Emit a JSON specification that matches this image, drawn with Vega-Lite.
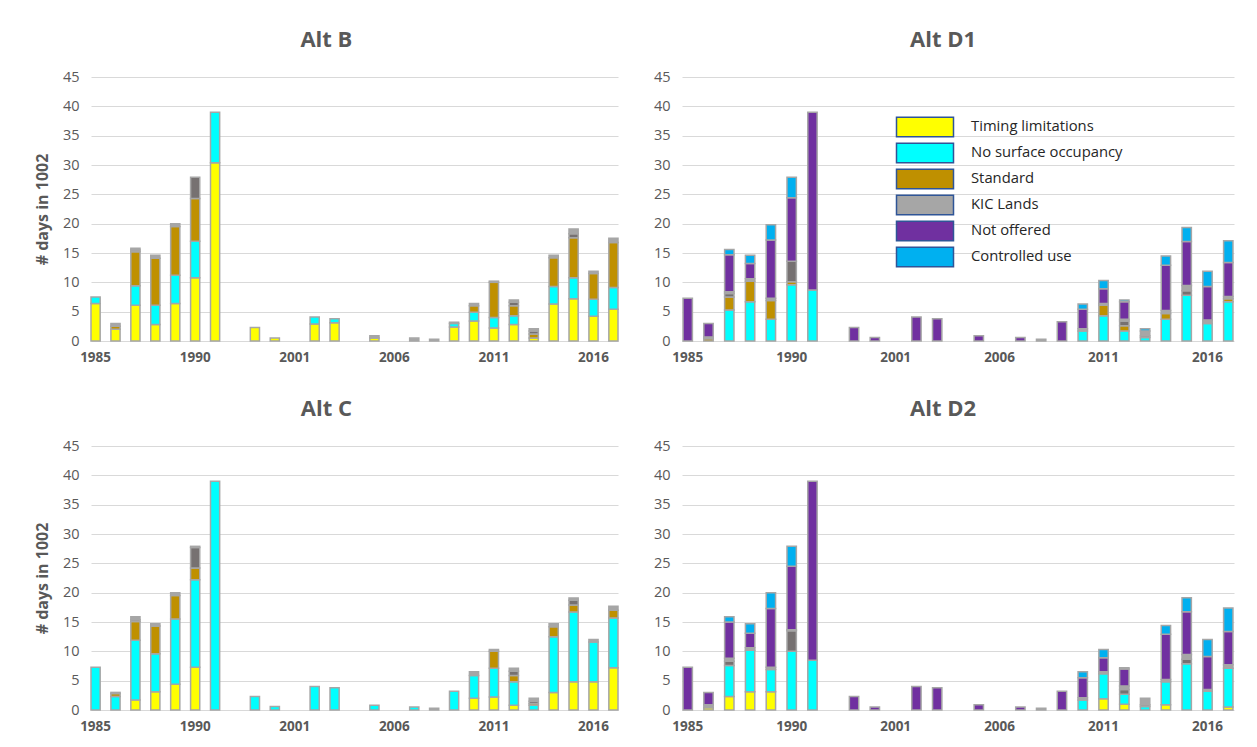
{
  "$schema": "https://vega.github.io/schema/vega-lite/v6.json",
  "background": "white",
  "padding": {"left": 34, "top": 29, "right": 10, "bottom": 5},
  "config": {
    "view": {"stroke": null},
    "font": "Open Sans",
    "axis": {"domain": false, "ticks": false, "labelColor": "#595959", "labelFont": "Open Sans", "gridColor": "#D9D9D9", "gridWidth": 1.2},
    "axisX": {"grid": false, "labelFontWeight": "bold", "labelFontSize": 13.5, "labelPadding": 9, "labelAngle": 0},
    "axisY": {"grid": true, "labelFontSize": 14.5, "labelPadding": 12, "minExtent": 30, "maxExtent": 30},
    "title": {"font": "Open Sans", "fontSize": 22, "fontWeight": "bold", "color": "#595959", "anchor": "middle", "frame": "bounds", "offset": 17}
  },
  "data": {"values": [
    {"panel": "Alt B", "year": "1985", "Timing limitations": 6.4, "No surface occupancy": 1.1},
    {"panel": "Alt B", "year": "1986", "Timing limitations": 2.0, "Standard": 0.5, "KIC Lands": 0.5},
    {"panel": "Alt B", "year": "1987", "Timing limitations": 6.1, "No surface occupancy": 3.3, "Standard": 5.8, "Other": 0.3, "KIC Lands": 0.3},
    {"panel": "Alt B", "year": "1988", "Timing limitations": 2.8, "No surface occupancy": 3.3, "Standard": 8.0, "KIC Lands": 0.5},
    {"panel": "Alt B", "year": "1989", "Timing limitations": 6.4, "No surface occupancy": 4.8, "Standard": 8.3, "KIC Lands": 0.5},
    {"panel": "Alt B", "year": "1990", "Timing limitations": 10.8, "No surface occupancy": 6.2, "Standard": 7.3, "Other": 3.6},
    {"panel": "Alt B", "year": "1991", "Timing limitations": 30.4, "No surface occupancy": 8.6},
    {"panel": "Alt B", "year": "1999", "Timing limitations": 2.3},
    {"panel": "Alt B", "year": "2000", "Timing limitations": 0.5},
    {"panel": "Alt B", "year": "2002", "Timing limitations": 2.9, "No surface occupancy": 1.2},
    {"panel": "Alt B", "year": "2003", "Timing limitations": 3.1, "No surface occupancy": 0.7},
    {"panel": "Alt B", "year": "2005", "Timing limitations": 0.5, "KIC Lands": 0.4},
    {"panel": "Alt B", "year": "2007", "KIC Lands": 0.5},
    {"panel": "Alt B", "year": "2008", "KIC Lands": 0.3},
    {"panel": "Alt B", "year": "2009", "Timing limitations": 2.4, "No surface occupancy": 0.6, "KIC Lands": 0.2},
    {"panel": "Alt B", "year": "2010", "Timing limitations": 3.4, "No surface occupancy": 1.5, "Standard": 1.1, "KIC Lands": 0.4},
    {"panel": "Alt B", "year": "2011", "Timing limitations": 2.2, "No surface occupancy": 1.8, "Standard": 6.0, "KIC Lands": 0.2},
    {"panel": "Alt B", "year": "2012", "Timing limitations": 2.8, "No surface occupancy": 1.5, "Standard": 1.7, "Other": 0.6, "KIC Lands": 0.4},
    {"panel": "Alt B", "year": "2013", "Timing limitations": 0.5, "Standard": 0.7, "Other": 0.5, "KIC Lands": 0.4},
    {"panel": "Alt B", "year": "2014", "Timing limitations": 6.3, "No surface occupancy": 3.0, "Standard": 4.9, "KIC Lands": 0.4},
    {"panel": "Alt B", "year": "2015", "Timing limitations": 7.2, "No surface occupancy": 3.6, "Standard": 6.8, "Other": 0.7, "KIC Lands": 0.8},
    {"panel": "Alt B", "year": "2016", "Timing limitations": 4.2, "No surface occupancy": 2.9, "Standard": 4.4, "KIC Lands": 0.4},
    {"panel": "Alt B", "year": "2017", "Timing limitations": 5.4, "No surface occupancy": 3.7, "Standard": 7.7, "KIC Lands": 0.7},

    {"panel": "Alt D1", "year": "1985", "Not offered": 7.3},
    {"panel": "Alt D1", "year": "1986", "Standard": 0.4, "KIC Lands": 0.3, "Not offered": 2.3},
    {"panel": "Alt D1", "year": "1987", "No surface occupancy": 5.3, "Standard": 2.2, "Other": 0.6, "KIC Lands": 0.3, "Not offered": 6.3, "Controlled use": 0.9},
    {"panel": "Alt D1", "year": "1988", "No surface occupancy": 6.7, "Standard": 3.5, "KIC Lands": 0.4, "Not offered": 2.6, "Controlled use": 1.4},
    {"panel": "Alt D1", "year": "1989", "No surface occupancy": 3.7, "Standard": 3.2, "KIC Lands": 0.4, "Not offered": 9.9, "Controlled use": 2.6},
    {"panel": "Alt D1", "year": "1990", "No surface occupancy": 9.6, "Standard": 0.5, "Other": 3.5, "Not offered": 10.8, "Controlled use": 3.5},
    {"panel": "Alt D1", "year": "1991", "No surface occupancy": 8.7, "Not offered": 30.3},
    {"panel": "Alt D1", "year": "1999", "Not offered": 2.3},
    {"panel": "Alt D1", "year": "2000", "Not offered": 0.6},
    {"panel": "Alt D1", "year": "2002", "Not offered": 4.1},
    {"panel": "Alt D1", "year": "2003", "Not offered": 3.8},
    {"panel": "Alt D1", "year": "2005", "Not offered": 0.9},
    {"panel": "Alt D1", "year": "2007", "Not offered": 0.6},
    {"panel": "Alt D1", "year": "2008", "KIC Lands": 0.3},
    {"panel": "Alt D1", "year": "2009", "Not offered": 3.3},
    {"panel": "Alt D1", "year": "2010", "No surface occupancy": 1.7, "KIC Lands": 0.4, "Not offered": 3.3, "Controlled use": 0.9},
    {"panel": "Alt D1", "year": "2011", "No surface occupancy": 4.3, "Standard": 1.8, "KIC Lands": 0.3, "Not offered": 2.5, "Controlled use": 1.4},
    {"panel": "Alt D1", "year": "2012", "No surface occupancy": 1.7, "Standard": 0.9, "Other": 0.8, "KIC Lands": 0.3, "Not offered": 3.0, "Controlled use": 0.3},
    {"panel": "Alt D1", "year": "2013", "No surface occupancy": 0.6, "Other": 0.3, "KIC Lands": 0.8, "Controlled use": 0.4},
    {"panel": "Alt D1", "year": "2014", "No surface occupancy": 3.7, "Standard": 1.0, "KIC Lands": 0.5, "Not offered": 7.7, "Controlled use": 1.6},
    {"panel": "Alt D1", "year": "2015", "No surface occupancy": 7.8, "Other": 0.75, "KIC Lands": 0.9, "Not offered": 7.5, "Controlled use": 2.4},
    {"panel": "Alt D1", "year": "2016", "No surface occupancy": 3.0, "KIC Lands": 0.6, "Not offered": 5.7, "Controlled use": 2.6},
    {"panel": "Alt D1", "year": "2017", "No surface occupancy": 6.7, "Standard": 0.5, "KIC Lands": 0.4, "Not offered": 5.8, "Controlled use": 3.7},

    {"panel": "Alt C", "year": "1985", "No surface occupancy": 7.3},
    {"panel": "Alt C", "year": "1986", "No surface occupancy": 2.3, "Standard": 0.5, "KIC Lands": 0.2},
    {"panel": "Alt C", "year": "1987", "Timing limitations": 1.7, "No surface occupancy": 10.2, "Standard": 3.2, "Other": 0.3, "KIC Lands": 0.5},
    {"panel": "Alt C", "year": "1988", "Timing limitations": 3.1, "No surface occupancy": 6.5, "Standard": 4.7, "KIC Lands": 0.4},
    {"panel": "Alt C", "year": "1989", "Timing limitations": 4.4, "No surface occupancy": 11.1, "Standard": 4.0, "KIC Lands": 0.5},
    {"panel": "Alt C", "year": "1990", "Timing limitations": 7.3, "No surface occupancy": 14.9, "Standard": 2.0, "Other": 3.5, "KIC Lands": 0.2},
    {"panel": "Alt C", "year": "1991", "No surface occupancy": 39.0},
    {"panel": "Alt C", "year": "1999", "No surface occupancy": 2.3},
    {"panel": "Alt C", "year": "2000", "No surface occupancy": 0.6},
    {"panel": "Alt C", "year": "2002", "No surface occupancy": 4.0},
    {"panel": "Alt C", "year": "2003", "No surface occupancy": 3.8},
    {"panel": "Alt C", "year": "2005", "No surface occupancy": 0.8},
    {"panel": "Alt C", "year": "2007", "No surface occupancy": 0.5},
    {"panel": "Alt C", "year": "2008", "KIC Lands": 0.3},
    {"panel": "Alt C", "year": "2009", "No surface occupancy": 3.2},
    {"panel": "Alt C", "year": "2010", "Timing limitations": 2.0, "No surface occupancy": 3.9, "KIC Lands": 0.6},
    {"panel": "Alt C", "year": "2011", "Timing limitations": 2.2, "No surface occupancy": 4.9, "Standard": 2.9, "KIC Lands": 0.3},
    {"panel": "Alt C", "year": "2012", "Timing limitations": 0.8, "No surface occupancy": 4.0, "Standard": 1.1, "Other": 0.7, "KIC Lands": 0.5},
    {"panel": "Alt C", "year": "2013", "No surface occupancy": 0.8, "Standard": 0.3, "Other": 0.4, "KIC Lands": 0.5},
    {"panel": "Alt C", "year": "2014", "Timing limitations": 3.0, "No surface occupancy": 9.5, "Standard": 1.7, "KIC Lands": 0.5},
    {"panel": "Alt C", "year": "2015", "Timing limitations": 4.8, "No surface occupancy": 11.9, "Standard": 1.2, "Other": 0.8, "KIC Lands": 0.4},
    {"panel": "Alt C", "year": "2016", "Timing limitations": 4.8, "No surface occupancy": 6.8, "KIC Lands": 0.4},
    {"panel": "Alt C", "year": "2017", "Timing limitations": 7.2, "No surface occupancy": 8.5, "Standard": 1.3, "KIC Lands": 0.7},

    {"panel": "Alt D2", "year": "1985", "Not offered": 7.3},
    {"panel": "Alt D2", "year": "1986", "Timing limitations": 0.4, "KIC Lands": 0.5, "Not offered": 2.1},
    {"panel": "Alt D2", "year": "1987", "Timing limitations": 2.3, "No surface occupancy": 5.3, "Other": 0.7, "KIC Lands": 0.5, "Not offered": 6.2, "Controlled use": 0.9},
    {"panel": "Alt D2", "year": "1988", "Timing limitations": 3.1, "No surface occupancy": 7.1, "KIC Lands": 0.4, "Not offered": 2.5, "Controlled use": 1.6},
    {"panel": "Alt D2", "year": "1989", "Timing limitations": 3.1, "No surface occupancy": 3.8, "KIC Lands": 0.4, "Not offered": 10.0, "Controlled use": 2.7},
    {"panel": "Alt D2", "year": "1990", "No surface occupancy": 10.0, "Other": 3.5, "KIC Lands": 0.2, "Not offered": 10.8, "Controlled use": 3.4},
    {"panel": "Alt D2", "year": "1991", "No surface occupancy": 8.5, "Not offered": 30.5},
    {"panel": "Alt D2", "year": "1999", "Not offered": 2.3},
    {"panel": "Alt D2", "year": "2000", "Not offered": 0.5},
    {"panel": "Alt D2", "year": "2002", "Not offered": 4.0},
    {"panel": "Alt D2", "year": "2003", "Not offered": 3.8},
    {"panel": "Alt D2", "year": "2005", "Not offered": 0.9},
    {"panel": "Alt D2", "year": "2007", "Not offered": 0.5},
    {"panel": "Alt D2", "year": "2008", "KIC Lands": 0.3},
    {"panel": "Alt D2", "year": "2009", "Not offered": 3.2},
    {"panel": "Alt D2", "year": "2010", "No surface occupancy": 1.7, "KIC Lands": 0.4, "Not offered": 3.4, "Controlled use": 1.0},
    {"panel": "Alt D2", "year": "2011", "Timing limitations": 1.9, "No surface occupancy": 4.3, "KIC Lands": 0.3, "Not offered": 2.4, "Controlled use": 1.4},
    {"panel": "Alt D2", "year": "2012", "Timing limitations": 1.0, "No surface occupancy": 1.7, "Other": 0.8, "KIC Lands": 0.6, "Not offered": 2.9, "Controlled use": 0.2},
    {"panel": "Alt D2", "year": "2013", "No surface occupancy": 0.6, "Other": 0.3, "KIC Lands": 1.1},
    {"panel": "Alt D2", "year": "2014", "Timing limitations": 0.9, "No surface occupancy": 3.9, "KIC Lands": 0.4, "Not offered": 7.7, "Controlled use": 1.5},
    {"panel": "Alt D2", "year": "2015", "No surface occupancy": 7.9, "Other": 0.75, "KIC Lands": 0.8, "Not offered": 7.3, "Controlled use": 2.4},
    {"panel": "Alt D2", "year": "2016", "No surface occupancy": 3.2, "KIC Lands": 0.3, "Not offered": 5.6, "Controlled use": 2.9},
    {"panel": "Alt D2", "year": "2017", "Timing limitations": 0.5, "No surface occupancy": 6.6, "KIC Lands": 0.6, "Not offered": 5.7, "Controlled use": 4.0}
  ]},
  "resolve": {"scale": {"color": "independent", "x": "independent", "y": "independent"}, "legend": {"color": "independent"}},
  "spacing": 34,
  "vconcat": [
    {
      "spacing": 33,
      "resolve": {"scale": {"color": "independent", "x": "independent", "y": "independent"}, "legend": {"color": "independent"}},
      "hconcat": [
        {
          "width": 527, "height": 264,
          "title": {"text": "Alt B"},
          "transform": [
            {"filter": "datum.panel === 'Alt B'"},
            {"fold": ["Timing limitations", "No surface occupancy", "Standard", "Other", "KIC Lands", "Not offered", "Controlled use"], "as": ["category", "days"]},
            {"filter": "datum.days > 0"},
            {"window": [{"op": "row_number", "as": "stackIdx"}], "groupby": ["year"]}
          ],
          "mark": {"type": "bar", "stroke": "#A6A6A6", "strokeWidth": 1.5},
          "encoding": {
            "x": {"field": "year", "type": "ordinal", "scale": {"domain": ["1985","1986","1987","1988","1989","1990","1991","1998","1999","2000","2001","2002","2003","2004","2005","2006","2007","2008","2009","2010","2011","2012","2013","2014","2015","2016","2017"], "paddingInner": 0.54, "paddingOuter": 0.0}, "axis": {"title": null, "values": ["1985","1990","2001","2006","2011","2016"]}},
            "y": {"field": "days", "type": "quantitative", "stack": "zero", "scale": {"domain": [0, 45], "nice": false}, "axis": {"values": [0,5,10,15,20,25,30,35,40,45], "title": "# days in 1002", "titleFontSize": 16, "titleFontWeight": "bold", "titleColor": "#595959", "titleFont": "Open Sans", "titlePadding": 11}},
            "order": {"field": "stackIdx", "type": "quantitative", "sort": "ascending"},
            "color": {"field": "category", "type": "nominal", "scale": {"domain": ["Timing limitations", "No surface occupancy", "Standard", "Other", "KIC Lands", "Not offered", "Controlled use"], "range": ["#FFFF00", "#00FFFF", "#BF9000", "#767171", "#A6A6A6", "#7030A0", "#00B0F0"]}, "legend": null}
          }
        },
        {
          "width": 552, "height": 264,
          "title": {"text": "Alt D1"},
          "transform": [
            {"filter": "datum.panel === 'Alt D1'"},
            {"fold": ["Timing limitations", "No surface occupancy", "Standard", "Other", "KIC Lands", "Not offered", "Controlled use"], "as": ["category", "days"]},
            {"filter": "datum.days > 0"},
            {"window": [{"op": "row_number", "as": "stackIdx"}], "groupby": ["year"]}
          ],
          "mark": {"type": "bar", "stroke": "#A6A6A6", "strokeWidth": 1.5},
          "encoding": {
            "x": {"field": "year", "type": "ordinal", "scale": {"domain": ["1985","1986","1987","1988","1989","1990","1991","1998","1999","2000","2001","2002","2003","2004","2005","2006","2007","2008","2009","2010","2011","2012","2013","2014","2015","2016","2017"], "paddingInner": 0.55, "paddingOuter": 0.05}, "axis": {"title": null, "values": ["1985","1990","2001","2006","2011","2016"]}},
            "y": {"field": "days", "type": "quantitative", "stack": "zero", "scale": {"domain": [0, 45], "nice": false}, "axis": {"values": [0,5,10,15,20,25,30,35,40,45], "title": null}},
            "order": {"field": "stackIdx", "type": "quantitative", "sort": "ascending"},
            "color": {"field": "category", "type": "nominal", "scale": {"domain": ["Timing limitations", "No surface occupancy", "Standard", "Other", "KIC Lands", "Not offered", "Controlled use"], "range": ["#FFFF00", "#00FFFF", "#BF9000", "#767171", "#A6A6A6", "#7030A0", "#00B0F0"]},
              "legend": {"orient": "none", "legendX": 232, "legendY": 39, "padding": 0, "title": null, "values": ["Timing limitations", "No surface occupancy", "Standard", "KIC Lands", "Not offered", "Controlled use"], "symbolType": "M-2.85,-0.985H2.85V0.985H-2.85Z", "symbolSize": 400, "symbolStrokeColor": "#2F5597", "symbolStrokeWidth": 1.5, "symbolOpacity": 1, "labelFont": "Open Sans", "labelFontSize": 14.8, "labelColor": "#262626", "labelOffset": 35, "rowPadding": 0, "labelLimit": 300}}
          }
        }
      ]
    },
    {
      "spacing": 33,
      "resolve": {"scale": {"color": "independent", "x": "independent", "y": "independent"}, "legend": {"color": "independent"}},
      "hconcat": [
        {
          "width": 527, "height": 264,
          "title": {"text": "Alt C"},
          "transform": [
            {"filter": "datum.panel === 'Alt C'"},
            {"fold": ["Timing limitations", "No surface occupancy", "Standard", "Other", "KIC Lands", "Not offered", "Controlled use"], "as": ["category", "days"]},
            {"filter": "datum.days > 0"},
            {"window": [{"op": "row_number", "as": "stackIdx"}], "groupby": ["year"]}
          ],
          "mark": {"type": "bar", "stroke": "#A6A6A6", "strokeWidth": 1.5},
          "encoding": {
            "x": {"field": "year", "type": "ordinal", "scale": {"domain": ["1985","1986","1987","1988","1989","1990","1991","1998","1999","2000","2001","2002","2003","2004","2005","2006","2007","2008","2009","2010","2011","2012","2013","2014","2015","2016","2017"], "paddingInner": 0.54, "paddingOuter": 0.0}, "axis": {"title": null, "values": ["1985","1990","2001","2006","2011","2016"]}},
            "y": {"field": "days", "type": "quantitative", "stack": "zero", "scale": {"domain": [0, 45], "nice": false}, "axis": {"values": [0,5,10,15,20,25,30,35,40,45], "title": "# days in 1002", "titleFontSize": 16, "titleFontWeight": "bold", "titleColor": "#595959", "titleFont": "Open Sans", "titlePadding": 11}},
            "order": {"field": "stackIdx", "type": "quantitative", "sort": "ascending"},
            "color": {"field": "category", "type": "nominal", "scale": {"domain": ["Timing limitations", "No surface occupancy", "Standard", "Other", "KIC Lands", "Not offered", "Controlled use"], "range": ["#FFFF00", "#00FFFF", "#BF9000", "#767171", "#A6A6A6", "#7030A0", "#00B0F0"]}, "legend": null}
          }
        },
        {
          "width": 552, "height": 264,
          "title": {"text": "Alt D2"},
          "transform": [
            {"filter": "datum.panel === 'Alt D2'"},
            {"fold": ["Timing limitations", "No surface occupancy", "Standard", "Other", "KIC Lands", "Not offered", "Controlled use"], "as": ["category", "days"]},
            {"filter": "datum.days > 0"},
            {"window": [{"op": "row_number", "as": "stackIdx"}], "groupby": ["year"]}
          ],
          "mark": {"type": "bar", "stroke": "#A6A6A6", "strokeWidth": 1.5},
          "encoding": {
            "x": {"field": "year", "type": "ordinal", "scale": {"domain": ["1985","1986","1987","1988","1989","1990","1991","1998","1999","2000","2001","2002","2003","2004","2005","2006","2007","2008","2009","2010","2011","2012","2013","2014","2015","2016","2017"], "paddingInner": 0.55, "paddingOuter": 0.05}, "axis": {"title": null, "values": ["1985","1990","2001","2006","2011","2016"]}},
            "y": {"field": "days", "type": "quantitative", "stack": "zero", "scale": {"domain": [0, 45], "nice": false}, "axis": {"values": [0,5,10,15,20,25,30,35,40,45], "title": null}},
            "order": {"field": "stackIdx", "type": "quantitative", "sort": "ascending"},
            "color": {"field": "category", "type": "nominal", "scale": {"domain": ["Timing limitations", "No surface occupancy", "Standard", "Other", "KIC Lands", "Not offered", "Controlled use"], "range": ["#FFFF00", "#00FFFF", "#BF9000", "#767171", "#A6A6A6", "#7030A0", "#00B0F0"]}, "legend": null}
          }
        }
      ]
    }
  ]
}
